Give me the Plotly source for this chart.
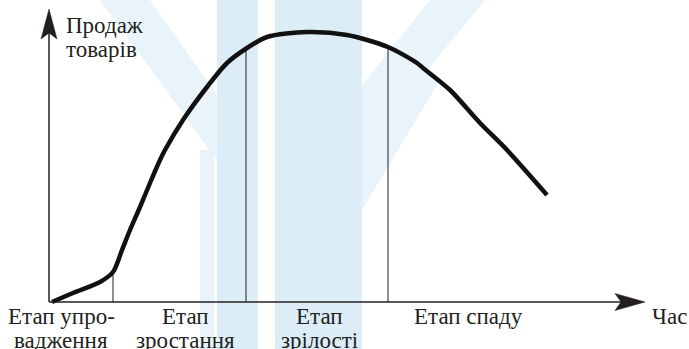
import plotly.graph_objects as go

# ---- data (time units ~ px right of origin, sales units ~ px above the time axis) ----
curve_time = [3, 24, 51, 64, 73, 81, 91, 101, 111, 116, 134, 158, 178, 198, 218, 258, 298, 339, 368, 374, 401, 431, 458, 498]
curve_sales = [0, 9, 20, 30, 52, 72, 95, 119, 142, 152, 182, 215, 239, 254, 265, 270, 267, 255, 239, 234, 212, 179, 152, 107]

stage_bounds = [64, 197, 339]
stage_bound_heights = [30, 254, 255]

stage_line1 = ["Етап упро-", "Етап", "Етап", "Етап спаду"]
stage_line2 = ["вадження", "зростання", "зрілості", ""]
stage_label_x = [12, 136, 270, 419]

y_title_lines = ["Продаж", "товарів"]
x_title = "Час"

FONT = "Liberation Serif"
INK = "#231f20"
FS = 23
W, H = 689, 349

fig = go.Figure()


def px(x, y):
    return x / W, 1 - y / H


# pale watermark of the source page (decorative background)
WM = "#dcedf7"
WM2 = "#e9f4fa"
wm_polys = [
    ([(217, 0), (258, 0), (258, 349), (217, 349)], WM),
    ([(275, 0), (362, 0), (362, 349), (275, 349)], WM),
    ([(200, 150), (214, 150), (214, 349), (200, 349)], WM2),
    ([(100, 0), (150, 0), (217, 95), (217, 160)], WM2),
    ([(430, 0), (485, 0), (362, 150), (362, 85)], WM2),
    ([(362, 130), (420, 60), (440, 80), (362, 210)], WM2),
]
for pts, col in wm_polys:
    path = "M " + " L ".join(f"{px(x, y)[0]:.4f},{px(x, y)[1]:.4f}" for x, y in pts) + " Z"
    fig.add_shape(type="path", path=path, xref="paper", yref="paper",
                  fillcolor=col, line=dict(width=0), layer="below")

# stage dividers
for bx, bh in zip(stage_bounds, stage_bound_heights):
    fig.add_trace(go.Scatter(x=[bx, bx], y=[0, bh], mode="lines",
                             line=dict(color=INK, width=1), hoverinfo="skip", showlegend=False))

# life-cycle curve
fig.add_trace(go.Scatter(x=curve_time, y=curve_sales, mode="lines",
                         line=dict(color="#111111", width=4.5, shape="spline", smoothing=0.8),
                         hoverinfo="skip", showlegend=False))

# axes lines with arrowheads
fig.add_shape(type="line", x0=0, y0=0, x1=572, y1=0, line=dict(color=INK, width=1.5))
fig.add_shape(type="line", x0=0, y0=0, x1=0, y1=270, line=dict(color=INK, width=1.5))
fig.add_shape(type="path", path="M 596 0 L 566 8.5 L 572 0 L 566 -8.5 Z",
              fillcolor=INK, line=dict(color=INK, width=0.5))
fig.add_shape(type="path", path="M 0 293 L -8 263 L 0 269 L 8 263 Z",
              fillcolor=INK, line=dict(color=INK, width=0.5))

font = dict(family=FONT, size=FS, color=INK)

# y title (two lines)
for t, yy in zip(y_title_lines, [277, 253]):
    fig.add_annotation(x=15, y=yy, text=t, showarrow=False, xanchor="left", yanchor="middle", font=font)

# x title
fig.add_annotation(x=620, y=-14, text=x_title, showarrow=False, xanchor="center", yanchor="middle", font=font)

# stage labels
for l1, l2, lx in zip(stage_line1, stage_line2, stage_label_x):
    fig.add_annotation(x=lx, y=-14, text=l1, showarrow=False, xanchor="center", yanchor="middle", font=font)
    if l2:
        fig.add_annotation(x=lx, y=-38, text=l2, showarrow=False, xanchor="center", yanchor="middle", font=font)

fig.update_layout(
    width=W, height=H,
    margin=dict(l=0, r=0, t=0, b=0),
    paper_bgcolor="white", plot_bgcolor="rgba(0,0,0,0)",
    xaxis=dict(range=[-49, 640], visible=False, fixedrange=True),
    yaxis=dict(range=[-47, 302], visible=False, fixedrange=True),
)

fig.write_html("out.html", config={"displayModeBar": False, "staticPlot": True},
               post_script="document.body.style.margin='0';document.body.style.overflow='hidden';")
